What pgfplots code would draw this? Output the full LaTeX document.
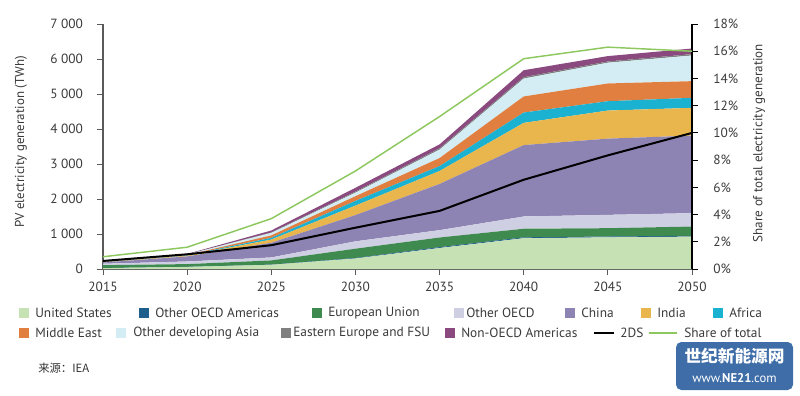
\documentclass[border=0pt]{standalone}
\usepackage{pgfplots}
\usepackage{pgfplotstable}
\pgfplotsset{compat=1.18}
\usepackage{fontspec}
\setmainfont{PT Sans}
\newfontfamily\cjk{Noto Sans CJK SC}
\definecolor{cUS}{HTML}{C6E2B5}
\definecolor{cOOA}{HTML}{1F5F8B}
\definecolor{cEU}{HTML}{3F8A4F}
\definecolor{cOO}{HTML}{CFCFE3}
\definecolor{cCN}{HTML}{8E84B3}
\definecolor{cIN}{HTML}{E8B64C}
\definecolor{cAF}{HTML}{1BB2D2}
\definecolor{cME}{HTML}{E07F3F}
\definecolor{cODA}{HTML}{D4ECF4}
\definecolor{cEE}{HTML}{7F7F7F}
\definecolor{cNOA}{HTML}{8B4A7F}
\definecolor{cShare}{HTML}{8DC85F}
\definecolor{txt}{HTML}{3A3A3A}
\definecolor{wm}{HTML}{3E6DA8}

\pgfplotstableread{
year US OOA EU OO CN IN AF ME ODA EE NOA
2015 25 2 83 40 35 5 3 3 4 3 3
2020 60 3 77 75 145 20 10 10 15 5 10
2025 120 6 119 85 420 90 50 70 70 15 55
2030 300 15 265 210 750 270 135 135 100 30 110
2035 600 25 275 210 1320 370 140 230 240 40 110
2040 880 25 245 350 2040 635 295 460 510 40 200
2045 905 23 238 381 2178 802 267 507 593 36 153
2050 925 25 263 382 2216 793 287 476 733 40 160
}\stack

\pgfplotstableread{
year twods
2015 230
2020 420
2025 680
2030 1180
2035 1660
2040 2550
2045 3247
2050 3888
}\twods

\pgfplotstableread{
year share
2015 0.9
2020 1.6
2025 3.7
2030 7.2
2035 11.2
2040 15.45
2045 16.3
2050 16.0
}\share

\begin{document}
\begin{tikzpicture}
\path[use as bounding box] (0,0) rectangle (600pt,-297pt);
\pgfplotsset{
  common/.style={
    at={(77.25pt,-201.75pt)}, anchor=south west, scale only axis,
    width=441.75pt, height=183.75pt,
    xmin=2015, xmax=2050,
    font=\fontsize{10pt}{12pt}\selectfont,
    tick label style={text=txt},
    /pgf/number format/assume math mode=true,
  }
}
\begin{axis}[common,
  ymin=0, ymax=7000,
  stack plots=y,
  axis x line*=bottom, axis y line*=left,
  axis line style={-, draw=black!65, line width=0.8pt},
  xtick={2015,2020,...,2050},
  xticklabel style={/pgf/number format/1000 sep={}, yshift=-2pt},
  ytick={0,1000,...,7000},
  yticklabels={0,1 000,2 000,3 000,4 000,5 000,6 000,7 000},
  yticklabel style={xshift=-7pt},
  tick align=outside, major tick length=4.5pt,
  tick style={draw=black!65, line width=0.6pt},
]
\addplot[fill=cUS, draw=none] table[x=year,y=US]{\stack} \closedcycle;
\addplot[fill=cOOA, draw=none] table[x=year,y=OOA]{\stack} \closedcycle;
\addplot[fill=cEU, draw=none] table[x=year,y=EU]{\stack} \closedcycle;
\addplot[fill=cOO, draw=none] table[x=year,y=OO]{\stack} \closedcycle;
\addplot[fill=cCN, draw=none] table[x=year,y=CN]{\stack} \closedcycle;
\addplot[fill=cIN, draw=none] table[x=year,y=IN]{\stack} \closedcycle;
\addplot[fill=cAF, draw=none] table[x=year,y=AF]{\stack} \closedcycle;
\addplot[fill=cME, draw=none] table[x=year,y=ME]{\stack} \closedcycle;
\addplot[fill=cODA, draw=none] table[x=year,y=ODA]{\stack} \closedcycle;
\addplot[fill=cEE, draw=none] table[x=year,y=EE]{\stack} \closedcycle;
\addplot[fill=cNOA, draw=none] table[x=year,y=NOA]{\stack} \closedcycle;
\end{axis}

\begin{axis}[common, ymin=0, ymax=7000, hide axis]
\addplot[black, line width=1.5pt] table[x=year,y=twods]{\twods};
\end{axis}

\begin{axis}[common,
  ymin=0, ymax=18,
  axis y line*=right, axis x line=none,
  axis line style={-, draw=black, line width=0.8pt},
  ytick={0,2,...,18},
  yticklabels={0\%,2\%,4\%,6\%,8\%,10\%,12\%,14\%,16\%,18\%},
  yticklabel style={xshift=8pt},
  tick align=outside, major tick length=4.5pt,
  tick style={draw=black, line width=0.6pt},
]
\addplot[cShare, line width=1.1pt] table[x=year,y=share]{\share};
\end{axis}

\begin{scope}[x=0.75pt,y=-0.75pt, font=\fontsize{10pt}{12pt}\selectfont, text=txt]
\node[rotate=90, font=\fontsize{9.7pt}{12pt}\selectfont] at (21,142) {PV electricity generation (TWh)};
\node[rotate=90, font=\fontsize{9.8pt}{12pt}\selectfont] at (759,143) {Share of total electricity generation};
% legend row 1
\def\ry{313}
\fill[cUS] (19,308) rectangle (29,318); \node[anchor=west,inner sep=0] at (35,\ry) {United States};
\fill[cOOA] (139,308) rectangle (149,318); \node[anchor=west,inner sep=0] at (155,\ry) {Other OECD Americas};
\fill[cEU] (312,308) rectangle (322,318); \node[anchor=west,inner sep=0] at (328,\ry) {European Union};
\fill[cOO] (454,308) rectangle (464,318); \node[anchor=west,inner sep=0] at (466,\ry) {Other OECD};
\fill[cCN] (565,308) rectangle (575,318); \node[anchor=west,inner sep=0] at (581,\ry) {China};
\fill[cIN] (641,308) rectangle (651,318); \node[anchor=west,inner sep=0] at (657,\ry) {India};
\fill[cAF] (713,308) rectangle (723,318); \node[anchor=west,inner sep=0] at (729,\ry) {Africa};
% legend row 2
\def\rz{333}
\fill[cME] (19,328) rectangle (29,338); \node[anchor=west,inner sep=0] at (35,\rz) {Middle East};
\fill[cODA] (116,328) rectangle (126,338); \node[anchor=west,inner sep=0] at (133,\rz) {Other developing Asia};
\fill[cEE] (281,328) rectangle (291,338); \node[anchor=west,inner sep=0] at (293,\rz) {Eastern Europe and FSU};
\fill[cNOA] (445,328) rectangle (455,338); \node[anchor=west,inner sep=0] at (461,\rz) {Non-OECD Americas};
\draw[black, line width=1.5pt] (594,\rz) -- (614,\rz); \node[anchor=west,inner sep=0] at (620,\rz) {2DS};
\draw[cShare, line width=1.1pt] (649,\rz) -- (677,\rz); \node[anchor=west,inner sep=0] at (684,\rz) {Share of total};
% source
\node[anchor=west,inner sep=0, font=\cjk\fontsize{8.5pt}{10pt}\selectfont, text=black!80] at (38,368) {来源：IEA};
% watermark
\fill[wm, rounded corners=4pt] (676,342) rectangle (793,390);
\node[text=white, font=\cjk\bfseries\fontsize{12.5pt}{14pt}\selectfont] at (734.5,356) {世纪新能源网};
\node[text=white, font=\fontsize{9.5pt}{11pt}\selectfont] at (734.5,378) {www.\textbf{NE21}.com};
\end{scope}
\end{tikzpicture}
\end{document}
